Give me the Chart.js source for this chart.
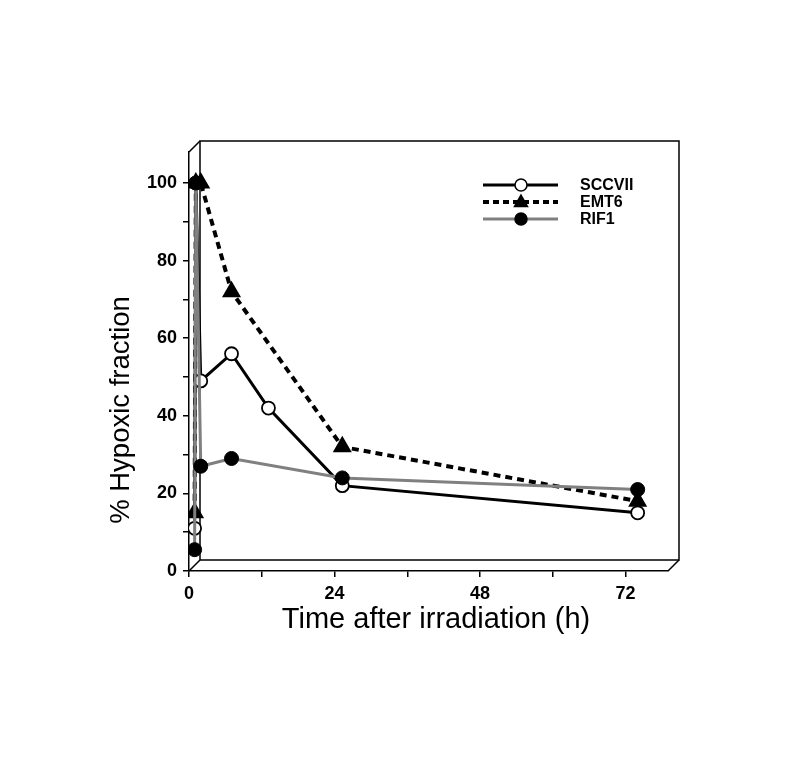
<!DOCTYPE html>
<html>
<head>
<meta charset="utf-8">
<script src="https://cdn.jsdelivr.net/npm/chart.js@4.4.1/dist/chart.umd.min.js"></script>
<style>
    html, body { margin: 0; padding: 0; background: #fff; }
</style>
</head>
<body>
<canvas id="myChart" width="800" height="772"></canvas>
<script>
// hours after irradiation (0 = unirradiated control, 0.2 = just after)
const hours = [0, 0.2, 1, 6, 12, 24, 72];
const sccvii = [11, 100, 49, 56, 42, 22, 15];
const emt6 = [15, 100, 100, 72, null, 32, 18];
const rif1 = [5.5, 100, 27, 29, null, 24, 21];
const xTicks = [0, 24, 48, 72];
const yTicks = [0, 20, 40, 60, 80, 100];

const FONT = "'Liberation Sans', Arial, Helvetica, sans-serif";
const DEPTH = 11;

function points(values) {
    const out = [];
    hours.forEach((h, i) => {
        if (values[i] !== null) out.push({ x: h, y: values[i] });
    });
    return out;
}

// back panel and side walls of the 3d box
const boxPlugin = {
    id: "box",
    beforeDatasetsDraw(chart) {
        const { ctx, chartArea: a } = chart;
        ctx.save();
        ctx.strokeStyle = "#000";
        ctx.lineWidth = 1.5;
        ctx.strokeRect(a.left + DEPTH, a.top - DEPTH, a.right - a.left, a.bottom - a.top);
        ctx.beginPath();
        ctx.moveTo(a.left, a.top);
        ctx.lineTo(a.left + DEPTH, a.top - DEPTH);
        ctx.moveTo(a.left, a.bottom);
        ctx.lineTo(a.left + DEPTH, a.bottom - DEPTH);
        ctx.moveTo(a.right, a.bottom);
        ctx.lineTo(a.right + DEPTH, a.bottom - DEPTH);
        ctx.stroke();
        ctx.restore();
    },
};

// axis titles sit a little off the centre of the axes in the original
const titlePlugin = {
    id: "axisTitles",
    afterDraw(chart) {
        const ctx = chart.ctx;
        ctx.save();
        ctx.fillStyle = "#000";
        ctx.textAlign = "center";
        ctx.textBaseline = "middle";
        ctx.font = "29px " + FONT;
        ctx.fillText("Time after irradiation (h)", 436, 620);
        ctx.translate(121, 410);
        ctx.rotate(-Math.PI / 2);
        ctx.font = "27.5px " + FONT;
        ctx.fillText("% Hypoxic fraction", 0, 0);
        ctx.restore();
    },
};

const legendItems = [
    { text: "SCCVII", color: "#000", width: 3, dash: [], style: "open" },
    { text: "EMT6", color: "#000", width: 4, dash: [6, 4], style: "triangle" },
    { text: "RIF1", color: "#808080", width: 3, dash: [], style: "dot" },
];

const legendPlugin = {
    id: "boxLegend",
    afterDraw(chart) {
        const ctx = chart.ctx;
        ctx.save();
        legendItems.forEach((item, i) => {
            const y = 185 + i * 17;
            ctx.strokeStyle = item.color;
            ctx.lineWidth = item.width;
            ctx.setLineDash(item.dash);
            ctx.beginPath();
            ctx.moveTo(483, y);
            ctx.lineTo(558, y);
            ctx.stroke();
            ctx.setLineDash([]);
            ctx.lineWidth = 1.5;
            ctx.strokeStyle = "#000";
            ctx.fillStyle = item.style === "open" ? "#fff" : "#000";
            ctx.beginPath();
            if (item.style === "triangle") {
                ctx.moveTo(521, y - 7);
                ctx.lineTo(527.5, y + 4.5);
                ctx.lineTo(514.5, y + 4.5);
                ctx.closePath();
            } else {
                ctx.arc(521, y, 6, 0, Math.PI * 2);
            }
            ctx.fill();
            ctx.stroke();
            ctx.fillStyle = "#000";
            ctx.font = "bold 16px " + FONT;
            ctx.textBaseline = "middle";
            ctx.fillText(item.text, 580, y + 1);
        });
        ctx.restore();
    },
};

const ctx = document.getElementById("myChart");

new Chart(ctx, {
    type: "line",
    data: {
        datasets: [
            {
                label: "RIF1",
                data: points(rif1),
                xAxisID: "xd",
                borderColor: "#808080",
                borderWidth: 3,
                pointStyle: "circle",
                pointRadius: 7,
                pointBackgroundColor: "#000",
                pointBorderColor: "#000",
                pointBorderWidth: 1,
                order: 0,
            },
            {
                label: "SCCVII",
                data: points(sccvii),
                xAxisID: "xd",
                borderColor: "#000",
                borderWidth: 3,
                pointStyle: "circle",
                pointRadius: 6.5,
                pointBackgroundColor: "#fff",
                pointBorderColor: "#000",
                pointBorderWidth: 1.8,
                order: 1,
            },
            {
                label: "EMT6",
                data: points(emt6),
                xAxisID: "xd",
                borderColor: "#000",
                borderWidth: 4,
                borderDash: [7, 5],
                pointStyle: "triangle",
                pointRadius: 7,
                pointBackgroundColor: "#000",
                pointBorderColor: "#000",
                order: 2,
            },
        ],
    },
    options: {
        responsive: false,
        animation: false,
        layout: {
            padding: { left: 0, top: 152, right: 132, bottom: 0 },
        },
        plugins: {
            legend: { display: false },
            tooltip: { enabled: false },
        },
        scales: {
            // data are plotted on the back panel of the box
            xd: {
                type: "linear",
                display: false,
                min: -0.91,
                max: 76.93,
            },
            x: {
                type: "linear",
                position: "bottom",
                min: 0,
                max: 79,
                afterFit(scale) {
                    scale.height = 201;
                },
                afterBuildTicks(scale) {
                    scale.ticks = scale.ticks.filter((t) => t.value % 12 === 0);
                },
                ticks: {
                    stepSize: 12,
                    padding: 6,
                    color: "#000",
                    font: { family: FONT, size: 18, weight: "bold" },
                    callback: (v) => (xTicks.includes(v) ? v : ""),
                },
                grid: {
                    drawOnChartArea: false,
                    color: "#000",
                    lineWidth: 1.5,
                    tickLength: 6,
                },
                border: { color: "#000", width: 1.5 },
            },
            y: {
                min: 0,
                max: 108,
                afterFit(scale) {
                    scale.width = 189;
                },
                afterBuildTicks(scale) {
                    scale.ticks = scale.ticks.filter((t) => t.value % 10 === 0);
                },
                ticks: {
                    stepSize: 10,
                    padding: 6,
                    color: "#000",
                    font: { family: FONT, size: 18, weight: "bold" },
                    callback: (v) => (yTicks.includes(v) ? v : ""),
                },
                grid: {
                    drawOnChartArea: false,
                    color: "#000",
                    lineWidth: 1.5,
                    tickLength: 6,
                },
                border: { color: "#000", width: 1.5 },
            },
        },
    },
    plugins: [boxPlugin, titlePlugin, legendPlugin],
});
</script>
</body>
</html>
